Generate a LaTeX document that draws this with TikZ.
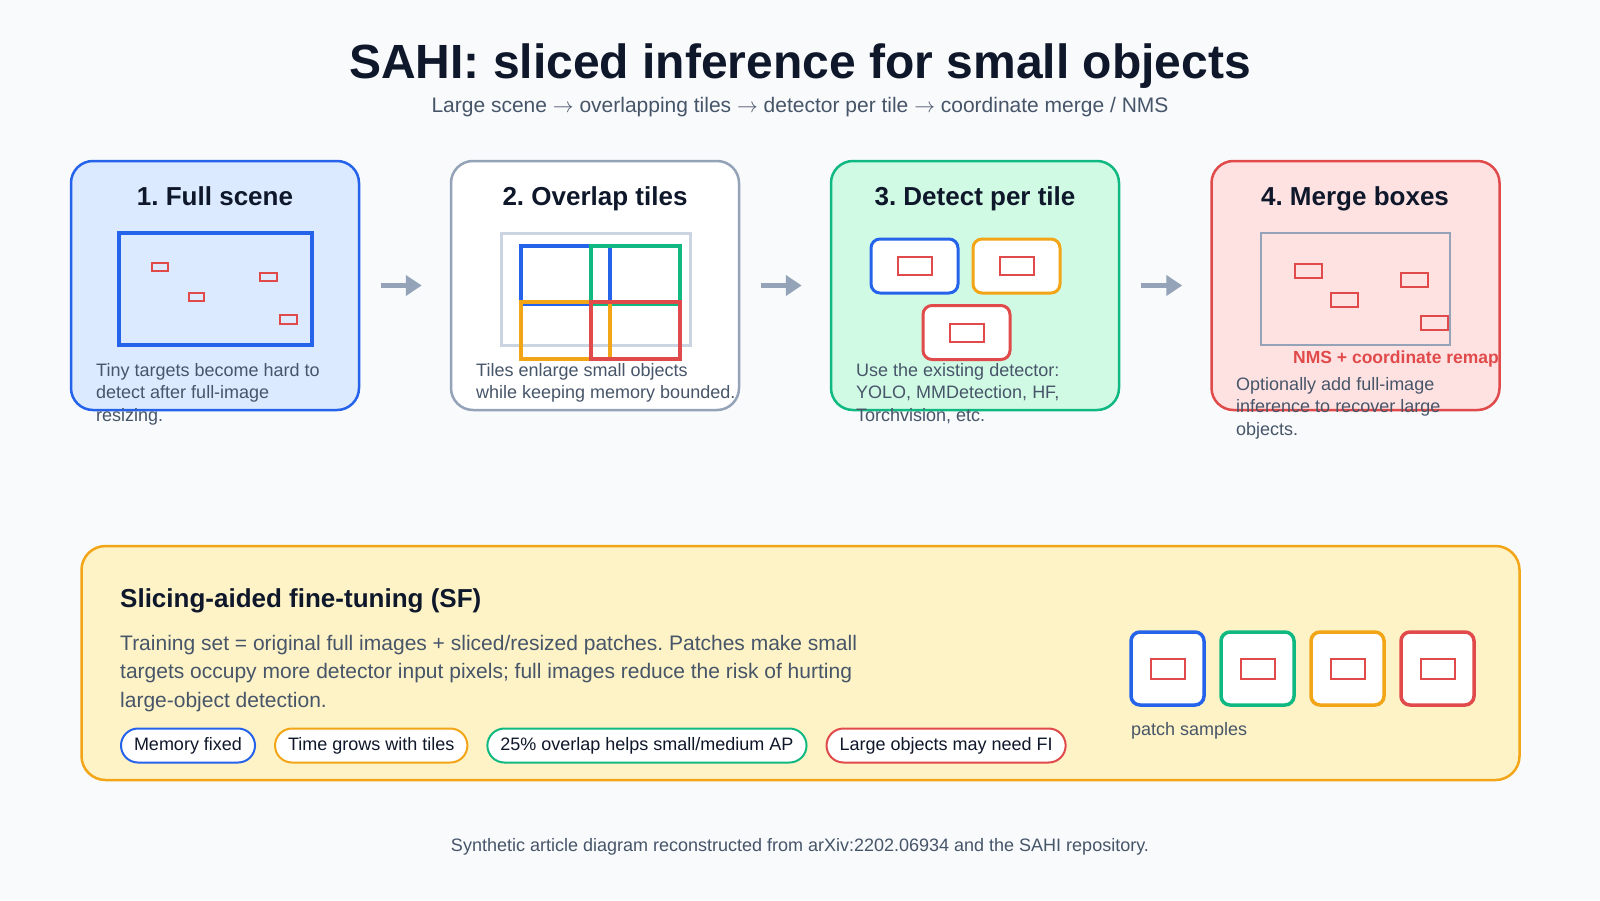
\documentclass[tikz,border=0pt]{standalone}
\usepackage{fontspec}
\setmainfont{Liberation Sans}
\usetikzlibrary{positioning,arrows.meta}

\definecolor{bgcol}{HTML}{F8FAFC}
\definecolor{ink}{HTML}{0F172A}
\definecolor{muted}{HTML}{475569}
\definecolor{blueline}{HTML}{2563EB}
\definecolor{bluefill}{HTML}{DBEAFE}
\definecolor{grayline}{HTML}{94A3B8}
\definecolor{graylight}{HTML}{CBD5E1}
\definecolor{greenline}{HTML}{10B981}
\definecolor{greenfill}{HTML}{D1FAE5}
\definecolor{orangeline}{HTML}{F2A516}
\definecolor{orangefill}{HTML}{FEF3C7}
\definecolor{redline}{HTML}{E14A4A}
\definecolor{redfill}{HTML}{FEE2E2}

\tikzset{
  stage/.style={draw, line width=2.5pt, rounded corners=22pt, minimum width=288pt, minimum height=249pt},
  stagehead/.style={font=\bfseries\fontsize{26}{30}\selectfont, text=ink, anchor=base},
  stagenote/.style={font=\fontsize{18}{22.5}\selectfont, text=muted, align=left, inner sep=0pt, anchor=north west},
  target/.style={draw=redline, line width=2pt},
  flow/.style={-{Triangle[length=16pt,width=20pt]}, line width=4.5pt, draw=grayline},
  hit/.style={draw, line width=3pt, fill=white, rounded corners=9pt, minimum width=87pt, minimum height=54pt},
  patch/.style={draw, line width=3.5pt, fill=white, rounded corners=9pt, minimum size=73pt},
  chip/.style={draw, line width=2pt, fill=white, rounded corners=17pt, minimum height=34pt, inner xsep=13pt,
    font=\fontsize{18}{20}\selectfont, text=ink, text height=13pt, text depth=4pt}
}

\begin{document}
\frenchspacing
\begin{tikzpicture}[x=1pt, y=-1pt]
  \fill[bgcol] (0,0) rectangle (1600,900);
  \useasboundingbox (0,0) rectangle (1600,900);

  \node[font=\bfseries\fontsize{48}{56}\selectfont, text=ink, anchor=base] (title) at (800,78)
    {SAHI: sliced inference for small objects};
  \node[font=\fontsize{21}{24}\selectfont, text=muted, anchor=base] (subtitle) at (800,112)
    {Large scene $\rightarrow$ overlapping tiles $\rightarrow$ detector per tile $\rightarrow$ coordinate merge / NMS};

  \node[stage, draw=blueline, fill=bluefill] (full) at (215,285.5) {};
  \node[stage, draw=grayline, fill=white] (tiles) at (595,285.5) {};
  \node[stage, draw=greenline, fill=greenfill] (detect) at (975,285.5) {};
  \node[stage, draw=redline, fill=redfill] (merge) at (1355.5,285.5) {};

  \draw[flow, shorten <=21pt, shorten >=28pt] (full) -- (tiles);
  \draw[flow, shorten <=21pt, shorten >=28pt] (tiles) -- (detect);
  \draw[flow, shorten <=21pt, shorten >=28pt] (detect) -- (merge);

  \node[stagehead] (fullhead) at (215,205) {1. Full scene};
  \node[stagehead] (tileshead) at (595,205) {2. Overlap tiles};
  \node[stagehead] (detecthead) at (975,205) {3. Detect per tile};
  \node[stagehead] (mergehead) at (1355,205) {4. Merge boxes};

  \draw[blueline, line width=4pt] (119,233) rectangle (312,345);
  \draw[target] (152,263) rectangle (168,271);
  \draw[target] (189,293) rectangle (204,301);
  \draw[target] (260,273) rectangle (277,281);
  \draw[target] (280,315) rectangle (297,324);
  \node[stagenote] (fullnote) at (96,363)
    {Tiny targets become hard to\\detect after full-image\\resizing.};

  \draw[graylight, line width=3pt] (501,233) rectangle (690,345);
  \draw[blueline, line width=3.5pt] (521,246) rectangle (610,304);
  \draw[greenline, line width=3.5pt] (591,246) rectangle (680,304);
  \draw[orangeline, line width=3.5pt] (521,302) rectangle (610,359);
  \draw[redline, line width=3.5pt] (591,302) rectangle (680,359);
  \node[stagenote] (tilesnote) at (476,363)
    {Tiles enlarge small objects\\while keeping memory bounded.};

  \node[hit, draw=blueline] (hitA) at (914.5,266) {};
  \node[hit, draw=orangeline] (hitB) at (1016.5,266) {};
  \node[hit, draw=redline] (hitC) at (966.5,332.5) {};
  \foreach \h in {hitA,hitB,hitC}
    \node[target, inner sep=0pt, minimum width=34pt, minimum height=18pt] at (\h) {};
  \node[stagenote] (detectnote) at (856,363)
    {Use the existing detector:\\YOLO, MMDetection, HF,\\Torchvision, etc.};

  \draw[grayline, line width=2.5pt] (1261,233) rectangle (1450,345);
  \draw[target, line width=2.5pt] (1295,264) rectangle (1322,278);
  \draw[target, line width=2.5pt] (1331,293) rectangle (1358,307);
  \draw[target, line width=2.5pt] (1401,273) rectangle (1428,287);
  \draw[target, line width=2.5pt] (1421,316) rectangle (1448,330);
  \node[font=\bfseries\fontsize{17.5}{20}\selectfont, text=redline, anchor=base west, inner sep=0pt] (remap)
    at (1293,363) {NMS + coordinate remap};
  \node[stagenote] (mergenote) at (1236,377)
    {Optionally add full-image\\inference to recover large\\objects.};

  \node[draw=orangeline, fill=orangefill, line width=2.5pt, rounded corners=24pt,
    minimum width=1438pt, minimum height=234pt] (sf) at (800.5,663) {};
  \node[font=\bfseries\fontsize{26}{30}\selectfont, text=ink, anchor=base west, inner sep=0pt] (sfhead)
    at (120,607) {Slicing-aided fine-tuning (SF)};
  \node[font=\fontsize{21}{28.5}\selectfont, text=muted, align=left, inner sep=0pt, anchor=north west] (sfnote)
    at (120,635) {Training set = original full images + sliced/resized patches. Patches make small\\
    targets occupy more detector input pixels; full images reduce the risk of hurting\\
    large-object detection.};

  \node[chip, draw=blueline, anchor=west] (memory) at (120,745.5) {Memory fixed};
  \node[chip, draw=orangeline, right=18pt of memory] (time) {Time grows with tiles};
  \node[chip, draw=greenline, right=18pt of time] (overlap) {25\% overlap helps small/medium AP};
  \node[chip, draw=redline, right=18pt of overlap] (large) {Large objects may need FI};

  \foreach \c [count=\i] in {blueline,greenline,orangeline,redline} {
    \node[patch, draw=\c] (patch\i) at ({1167.5+90*(\i-1)},668.5) {};
    \node[target, inner sep=0pt, minimum width=34pt, minimum height=20pt] at (patch\i) {};
  }
  \node[font=\fontsize{18}{20}\selectfont, text=muted, anchor=base west, inner sep=0pt] (patchlabel)
    at (1131,735.5) {patch samples};

  \node[font=\fontsize{18}{20}\selectfont, text=muted, anchor=base] (footer) at (800,851)
    {Synthetic article diagram reconstructed from arXiv:2202.06934 and the SAHI repository.};
\end{tikzpicture}
\end{document}
